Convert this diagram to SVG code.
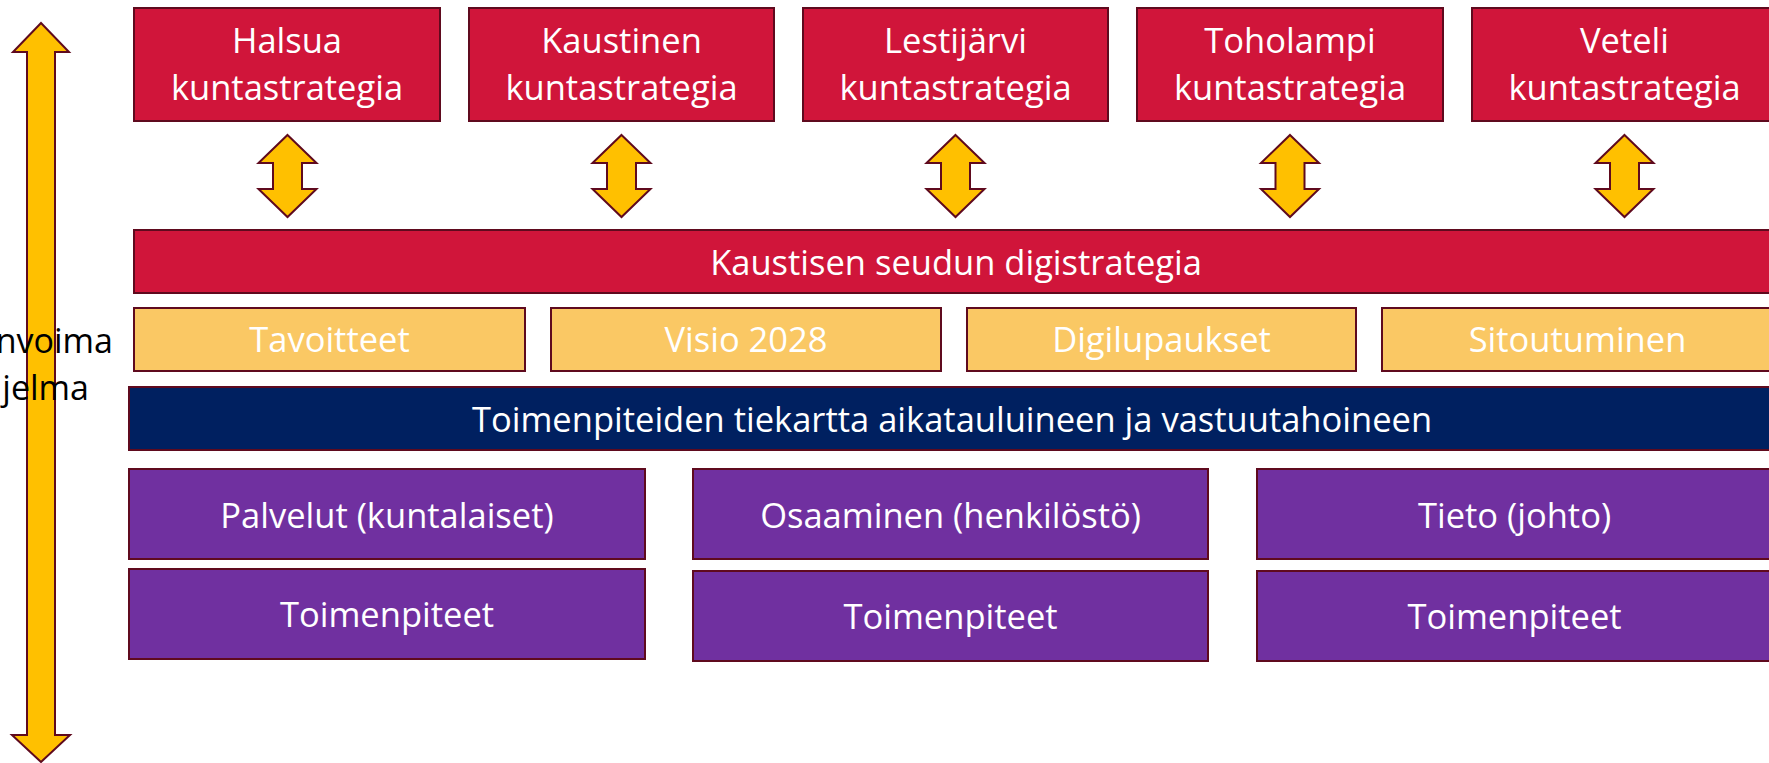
<svg xmlns="http://www.w3.org/2000/svg" width="1769" height="763" viewBox="0 0 1769 763">
<style>
  .box { stroke: #5F0A1E; stroke-width: 2; }
  .red { fill: #D0153A; }
  .yel { fill: #FAC864; }
  .navy { fill: #002060; }
  .pur { fill: #7030A0; }
  .arr { fill: #FFC000; stroke: #5F0A1E; stroke-width: 2; stroke-linejoin: miter; }
  text { font-family: "Open Sans", "Noto Sans", sans-serif; font-size: 34.5px; fill: #FFFFFF; text-anchor: middle; }
  .dark { fill: #000000; text-anchor: end; font-size: 34px; }
</style>
<defs>
  <polygon id="dbl" points="0,135 29,163 14.5,163 14.5,189 29,189 0,217 -29,189 -14.5,189 -14.5,163 -29,163"/>
</defs>
<rect width="1769" height="763" fill="#FFFFFF"/>

<g id="connectors">
  <polygon class="arr" points="41,23 69,52 55,52 55,735 70,735 41,762 12,735 27,735 27,52 13,52"/>
  <use href="#dbl" class="arr" x="287.5" y="0"/>
  <use href="#dbl" class="arr" x="621.5" y="0"/>
  <use href="#dbl" class="arr" x="955.5" y="0"/>
  <use href="#dbl" class="arr" x="1290" y="0"/>
  <use href="#dbl" class="arr" x="1624.5" y="0"/>
</g>

<g id="label-left">
  <text class="dark" x="113" y="353">nvoima</text>
  <text class="dark" x="89" y="400">jelma</text>
</g>

<g id="halsua">
  <rect class="box red" x="134" y="8" width="306" height="113"/>
  <text x="287" y="53">Halsua</text>
  <text x="287" y="100">kuntastrategia</text>
</g>
<g id="kaustinen">
  <rect class="box red" x="469" y="8" width="305" height="113"/>
  <text x="621.5" y="53">Kaustinen</text>
  <text x="621.5" y="100">kuntastrategia</text>
</g>
<g id="lestijarvi">
  <rect class="box red" x="803" y="8" width="305" height="113"/>
  <text x="955.5" y="53">Lestijärvi</text>
  <text x="955.5" y="100">kuntastrategia</text>
</g>
<g id="toholampi">
  <rect class="box red" x="1137" y="8" width="306" height="113"/>
  <text x="1290" y="53">Toholampi</text>
  <text x="1290" y="100">kuntastrategia</text>
</g>
<g id="veteli">
  <rect class="box red" x="1472" y="8" width="305" height="113"/>
  <text x="1624.5" y="53">Veteli</text>
  <text x="1624.5" y="100">kuntastrategia</text>
</g>

<g id="digistrategia">
  <rect class="box red" x="134" y="230" width="1642" height="63"/>
  <text x="956" y="275">Kaustisen seudun digistrategia</text>
</g>

<g id="tavoitteet">
  <rect class="box yel" x="134" y="308" width="391" height="63"/>
  <text x="329.5" y="352">Tavoitteet</text>
</g>
<g id="visio">
  <rect class="box yel" x="551" y="308" width="390" height="63"/>
  <text x="746" y="352">Visio 2028</text>
</g>
<g id="digilupaukset">
  <rect class="box yel" x="967" y="308" width="389" height="63"/>
  <text x="1161.5" y="352">Digilupaukset</text>
</g>
<g id="sitoutuminen">
  <rect class="box yel" x="1382" y="308" width="391" height="63"/>
  <text x="1577.5" y="352">Sitoutuminen</text>
</g>

<g id="tiekartta">
  <rect class="box navy" x="129" y="387" width="1650" height="63"/>
  <text x="952" y="432">Toimenpiteiden tiekartta aikatauluineen ja vastuutahoineen</text>
</g>

<g id="palvelut">
  <rect class="box pur" x="129" y="469" width="516" height="90"/>
  <text x="387" y="528">Palvelut (kuntalaiset)</text>
</g>
<g id="palvelut-toimenpiteet">
  <rect class="box pur" x="129" y="569" width="516" height="90"/>
  <text x="387" y="627">Toimenpiteet</text>
</g>
<g id="osaaminen">
  <rect class="box pur" x="693" y="469" width="515" height="90"/>
  <text x="950.5" y="528">Osaaminen (henkilöstö)</text>
</g>
<g id="osaaminen-toimenpiteet">
  <rect class="box pur" x="693" y="571" width="515" height="90"/>
  <text x="950.5" y="629">Toimenpiteet</text>
</g>
<g id="tieto">
  <rect class="box pur" x="1257" y="469" width="515" height="90"/>
  <text x="1514.5" y="528">Tieto (johto)</text>
</g>
<g id="tieto-toimenpiteet">
  <rect class="box pur" x="1257" y="571" width="515" height="90"/>
  <text x="1514.5" y="629">Toimenpiteet</text>
</g>
</svg>
